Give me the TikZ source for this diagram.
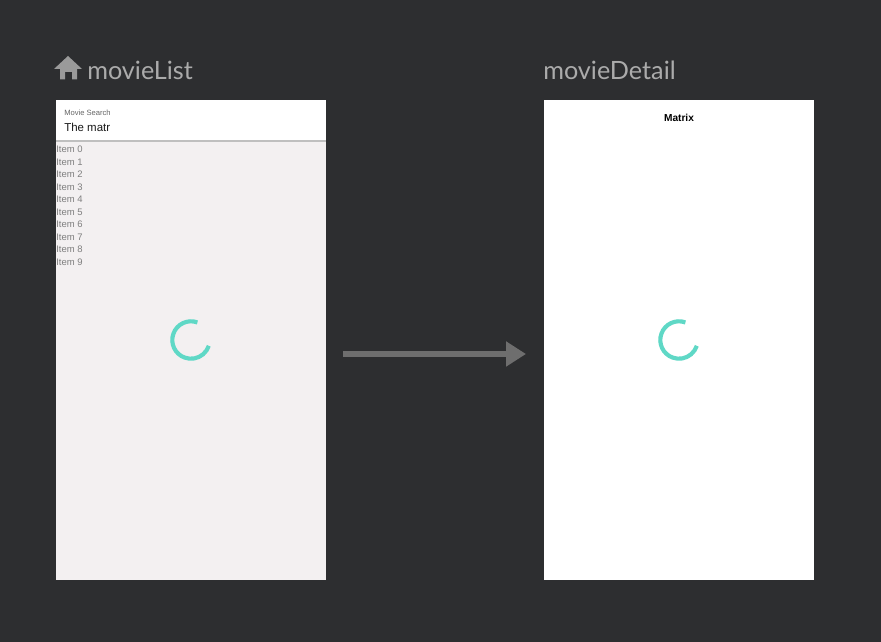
\documentclass[tikz,border=0pt]{standalone}
\usepackage{fontspec}
\setmainfont{Lato}
\newfontfamily\uifont{Liberation Sans}
\usetikzlibrary{arrows.meta}
\definecolor{bgc}{HTML}{2D2E30}
\definecolor{listbg}{HTML}{F3F0F1}
\definecolor{titlec}{HTML}{ABABAB}
\definecolor{itemc}{HTML}{7F7F7F}
\definecolor{spin}{HTML}{5FD8C6}
\definecolor{arrowc}{HTML}{6E6E6E}
\tikzset{
  x=0.75pt,y=0.75pt,
  titlelabel/.style={anchor=base west,inner sep=0pt,text=titlec,font=\fontsize{18.9pt}{20pt}\selectfont},
  itemlabel/.style={anchor=west,inner sep=0pt,text=itemc,font=\uifont\fontsize{7.1pt}{8pt}\selectfont},
  spinner/.style={draw=spin,line width=3.1pt,line cap=butt},
  flow/.style={draw=arrowc,line width=4.5pt,-{Triangle[length=15pt,width=18pt,fill=arrowc]}},
}
\begin{document}
\begin{tikzpicture}
\useasboundingbox (0,0) rectangle (881,642);
\fill[bgc] (0,0) rectangle (881,642);
% house icon
\fill[titlec!90!black] (68,586) -- (82,573) -- (77,573) -- (77,562.5) -- (72,562.5) -- (72,570) -- (65,570) -- (65,562.5) -- (60,562.5) -- (60,573) -- (54,573) -- cycle;
\node[titlelabel] (listtitle) at (87,562) {movieList};
\node[titlelabel] (detailtitle) at (543,562) {movieDetail};
% list panel
\fill[listbg] (56,62) rectangle (326,542);
\fill[white] (56,501) rectangle (326,542);
\fill[black!25] (56,500) rectangle (326,501.5);
\node[anchor=west,inner sep=0pt,text=black!60,font=\uifont\fontsize{5.7pt}{6pt}\selectfont] (searchlabel) at (64,529.5) {Movie Search};
\node[anchor=west,inner sep=0pt,text=black!90,font=\uifont\fontsize{8.6pt}{9pt}\selectfont] (searchtext) at (64,515) {The matr};
\foreach \i in {0,...,9}{
  \node[itemlabel] (item\i) at (56,{492.6-12.5*\i}) {Item \i};
}
\draw[spinner] ({191+18.7*cos(70)},{302+18.7*sin(70)}) arc[start angle=70,end angle=342,radius=14.03pt];
% detail panel
\fill[white] (544,62) rectangle (814,542);
\node[inner sep=0pt,text=black,font=\uifont\bfseries\fontsize{7.6pt}{8pt}\selectfont] (matrix) at (679,524) {Matrix};
\draw[spinner] ({679+18.7*cos(70)},{302+18.7*sin(70)}) arc[start angle=70,end angle=342,radius=14.03pt];
% arrow
\coordinate (flowstart) at (343,288);
\coordinate (flowend) at (526,288);
\draw[flow] (flowstart) -- (flowend);
\end{tikzpicture}
\end{document}
